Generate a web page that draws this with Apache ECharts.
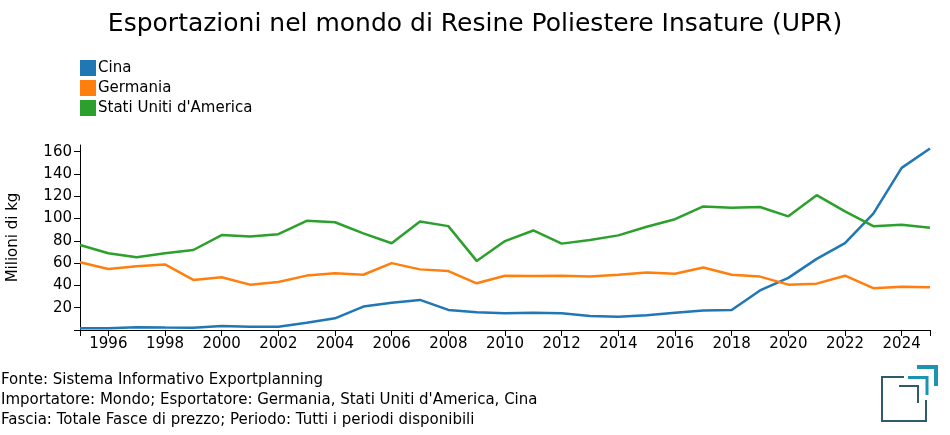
<!DOCTYPE html>
<html>
<head>
<meta charset="utf-8">
<script src="https://cdn.jsdelivr.net/npm/echarts@6/dist/echarts.min.js"></script>
<style>
html,body{margin:0;padding:0;background:#fff;}
#chart{width:950px;height:435px;}
</style>
</head>
<body>
<div id="chart"></div>
<script>
const years = [];
for (let y = 1995; y <= 2025; y++) years.push(String(y));
const seriesNames = ["Cina", "Germania", "Stati Uniti d'America"];
const cina = [1.5, 1.5, 2.5, 2.2, 2.0, 3.5, 3.0, 3.0, 6.5, 10.5, 21.0, 24.5, 27.0, 18.0, 16.0, 15.0, 15.5, 15.0, 12.5, 12.0, 13.2, 15.5, 17.6, 18.0, 35.5, 46.8, 63.8, 78.0, 104.5, 145.5, 162.8];
const germania = [60.8, 54.7, 57.3, 58.8, 44.9, 47.3, 40.7, 43.1, 48.8, 51.0, 49.6, 60.0, 54.4, 52.9, 41.9, 48.7, 48.4, 48.7, 48.1, 49.6, 51.7, 50.5, 56.1, 49.6, 47.9, 40.7, 41.6, 48.7, 37.5, 38.9, 38.4];
const usa = [76.3, 68.9, 65.3, 68.9, 71.8, 85.2, 84.0, 86.0, 98.0, 96.7, 86.7, 77.8, 97.3, 93.2, 62.0, 79.8, 89.3, 77.5, 80.7, 84.9, 92.6, 99.4, 110.9, 109.8, 110.4, 102.0, 121.0, 106.5, 93.2, 94.4, 91.7];
const yTicks = [0, 20, 40, 60, 80, 100, 120, 140, 160];
const colors = ["#1f77b4", "#ff7f0e", "#2ca02c"];
const footLines = [
  "Fonte: Sistema Informativo Exportplanning",
  "Importatore: Mondo; Esportatore: Germania, Stati Uniti d'America, Cina",
  "Fascia: Totale Fasce di prezzo; Periodo: Tutti i periodi disponibili"
];

const font = "DejaVu Sans";
const chart = echarts.init(document.getElementById('chart'), null, {renderer: 'canvas'});
const dataSets = [cina, germania, usa];

const dark = "#2f5a6a", teal = "#1b93b1";
const graphics = footLines.map((t, i) => ({
  type: 'text', x: 1, y: 380 + i * 20,
  style: {text: t, fontFamily: font, fontSize: 15, fill: '#000', verticalAlign: 'middle', align: 'left'}
}));
graphics.push(
  {type: 'polyline', shape: {points: [[904, 377], [882, 377], [882, 421], [926, 421], [926, 400]]}, style: {stroke: dark, lineWidth: 2, fill: null}},
  {type: 'polyline', shape: {points: [[899, 386], [918, 386], [918, 403]]}, style: {stroke: dark, lineWidth: 2, fill: null}},
  {type: 'polyline', shape: {points: [[908, 377.5], [927, 377.5], [927, 395]]}, style: {stroke: teal, lineWidth: 3, fill: null}},
  {type: 'polyline', shape: {points: [[917, 367], [936, 367], [936, 386]]}, style: {stroke: teal, lineWidth: 4, fill: null}}
);

chart.setOption({
  animation: false,
  color: colors,
  title: {
    text: "Esportazioni nel mondo di Resine Poliestere Insature (UPR)",
    left: 'center', top: 7,
    textStyle: {fontFamily: font, fontSize: 25, fontWeight: 'normal', color: '#000'}
  },
  legend: {
    orient: 'vertical', left: 75, top: 55,
    icon: 'rect', itemWidth: 16, itemHeight: 16, itemGap: 4,
    data: seriesNames,
    textStyle: {fontFamily: font, fontSize: 15, color: '#000', padding: [0, 0, 0, -3]}
  },
  grid: {left: 80, right: 20, top: 145, bottom: 105, containLabel: false, outerBoundsMode: 'none'},
  xAxis: {
    type: 'category', data: years, boundaryGap: false,
    axisLine: {lineStyle: {color: '#000', width: 1}},
    axisTick: {
      length: 6, lineStyle: {color: '#000'},
      interval: (idx, val) => Number(val) % 2 === 0 || idx === 0 || idx === years.length - 1
    },
    axisLabel: {
      interval: (idx, val) => Number(val) % 2 === 0,
      fontFamily: font, fontSize: 15, color: '#000', margin: 7
    },
    splitLine: {show: false}
  },
  yAxis: {
    type: 'value', min: 0, max: 166,
    name: 'Milioni di kg', nameLocation: 'middle', nameGap: 59, nameRotate: 90,
    nameTextStyle: {fontFamily: font, fontSize: 15, color: '#000'},
    axisLine: {show: true, lineStyle: {color: '#000', width: 1}},
    axisTick: {show: true, length: 6, lineStyle: {color: '#000'}, customValues: yTicks},
    axisLabel: {
      customValues: yTicks.filter(v => v > 0),
      fontFamily: font, fontSize: 15, color: '#000', margin: 8
    },
    splitLine: {show: false}
  },
  series: seriesNames.map((n, i) => ({
    name: n, type: 'line', data: dataSets[i],
    symbol: 'none', lineStyle: {width: 2.5, color: colors[i]},
    itemStyle: {color: colors[i]}
  })),
  graphic: graphics
});
</script>
</body>
</html>
